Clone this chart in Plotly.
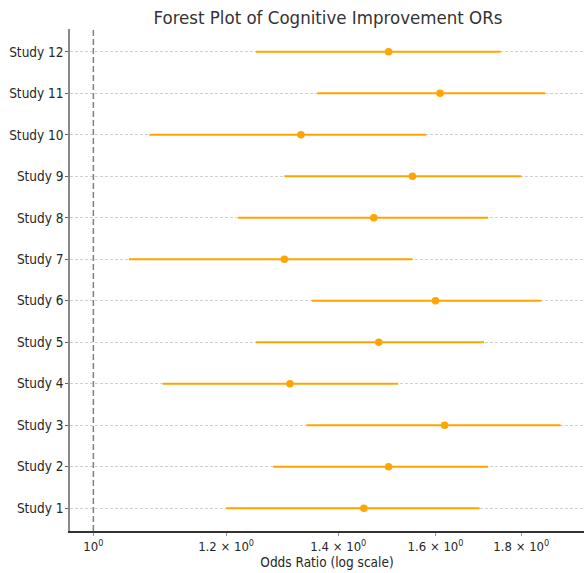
import plotly.graph_objects as go

studies = [f"Study {i}" for i in range(1, 13)]
odds_ratio = [1.45, 1.50, 1.62, 1.31, 1.48, 1.60, 1.30, 1.47, 1.55, 1.33, 1.61, 1.50]
ci_lower = [1.20, 1.28, 1.34, 1.10, 1.25, 1.35, 1.05, 1.22, 1.30, 1.08, 1.36, 1.25]
ci_upper = [1.70, 1.72, 1.90, 1.52, 1.71, 1.85, 1.55, 1.72, 1.80, 1.58, 1.86, 1.75]
x_tick_vals = [1.0, 1.2, 1.4, 1.6, 1.8]
x_tick_text = ["10<sup>0</sup>", "1.2 × 10<sup>0</sup>", "1.4 × 10<sup>0</sup>",
               "1.6 × 10<sup>0</sup>", "1.8 × 10<sup>0</sup>"]

err_plus = [u - o for u, o in zip(ci_upper, odds_ratio)]
err_minus = [o - l for o, l in zip(odds_ratio, ci_lower)]

font = "DejaVu Sans Condensed, DejaVu Sans"
txt = "#262626"

fig = go.Figure()
fig.add_trace(go.Scatter(
    x=odds_ratio, y=studies, mode="markers",
    marker=dict(color="#FFA500", size=7.5),
    error_x=dict(type="data", symmetric=False, array=err_plus, arrayminus=err_minus,
                 color="#FFA500", thickness=2, width=0),
    showlegend=False,
))

fig.add_shape(type="line", xref="x", yref="paper", x0=1, x1=1, y0=0, y1=1,
              line=dict(color="#808080", width=1.5, dash="6px,3px"))

fig.update_layout(
    width=584, height=573,
    margin=dict(l=70, r=0, t=29, b=42),
    paper_bgcolor="white", plot_bgcolor="white",
    font=dict(family=font, color=txt, size=12),
    title=dict(text="Forest Plot of Cognitive Improvement ORs", x=0.5616, xanchor="center",
               y=0.97, yanchor="middle", font=dict(size=18.5, color="#333333")),
)
fig.update_xaxes(
    type="log", range=[-0.01394, 0.29269], automargin=False,
    tickvals=x_tick_vals, ticktext=x_tick_text,
    showgrid=False, zeroline=False,
    showline=True, linecolor="#333333", linewidth=1.5,
    ticks="outside", ticklen=3, tickcolor="#999999",
    tickfont=dict(size=13, color=txt),
    title=dict(text="Odds Ratio (log scale)", font=dict(size=13.5, color=txt), standoff=3),
)
fig.update_yaxes(
    type="category", categoryorder="array", categoryarray=studies,
    range=[-0.55, 11.55], automargin=False,
    showgrid=True, gridcolor="#d0d0d0", gridwidth=0.8, griddash="3px,2px",
    zeroline=False, showline=True, linecolor="#888888", linewidth=1.5,
    ticks="outside", ticklen=3, tickcolor="#666666",
    ticklabelstandoff=-1,
    tickfont=dict(size=13.5, color=txt),
)

fig.write_html("out.html")
